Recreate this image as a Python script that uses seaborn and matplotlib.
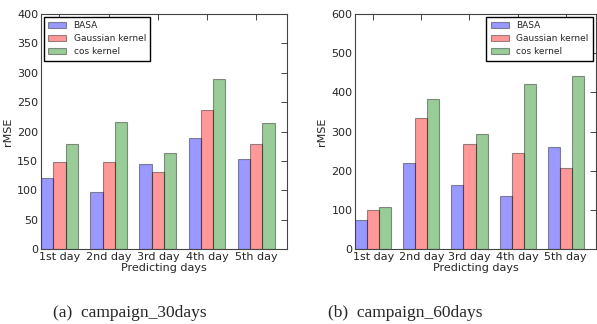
import pandas as pd
import seaborn as sns
import matplotlib
matplotlib.use('Agg')
import matplotlib.pyplot as plt

# data
days = ['1st day', '2nd day', '3rd day', '4th day', '5th day']
methods = ['BASA', 'Gaussian kernel', 'cos kernel']

basa_30 = [121, 97, 144, 189, 153]
gauss_30 = [148, 148, 131, 236, 178]
cos_30 = [178, 216, 163, 290, 215]

basa_60 = [75, 220, 163, 136, 260]
gauss_60 = [100, 334, 269, 245, 207]
cos_60 = [108, 384, 293, 422, 442]

captions = ['(a)  campaign_30days', '(b)  campaign_60days']


def to_long(basa, gauss, cos):
    rows = []
    for m, vals in zip(methods, [basa, gauss, cos]):
        for d, v in zip(days, vals):
            rows.append({'day': d, 'method': m, 'rMSE': v})
    return pd.DataFrame(rows)


sns.set_style('white')
plt.rcParams['font.family'] = ['DejaVu Sans']
plt.rcParams['legend.fancybox'] = False

palette = {'BASA': (0, 0, 1), 'Gaussian kernel': (1, 0, 0), 'cos kernel': (0, 0.5, 0)}

fig = plt.figure(figsize=(5.97, 3.24), dpi=100)
ax1 = fig.add_axes([0.0687, 0.231, 0.412, 0.726])
ax2 = fig.add_axes([0.595, 0.231, 0.403, 0.726])

panels = [
    (ax1, to_long(basa_30, gauss_30, cos_30), 400, 50, 'upper left'),
    (ax2, to_long(basa_60, gauss_60, cos_60), 600, 100, 'upper right'),
]

for ax, df, ymax, step, loc in panels:
    sns.barplot(data=df, x='day', y='rMSE', hue='method', palette=palette,
                width=0.75, alpha=0.4, edgecolor='black', linewidth=0.8,
                saturation=1, ax=ax)
    ax.set_xlim(-0.375, 4.625)
    ax.set_ylim(0, ymax)
    ax.set_yticks(range(0, ymax + 1, step))
    ax.set_xlabel('Predicting days', fontsize=8, labelpad=1)
    ax.set_ylabel('rMSE', fontsize=8, labelpad=3)
    ax.tick_params(direction='in', top=True, right=True, labelsize=8,
                   length=4, width=0.6, pad=2)
    for s in ax.spines.values():
        s.set_linewidth(0.8)
        s.set_color('#444444')
    ax.legend(loc=loc, fontsize=6.5, frameon=True, edgecolor='black',
              framealpha=1, borderpad=0.5, handlelength=2.0,
              labelspacing=0.45, borderaxespad=0.3)

fig.text(0.218, 0.035, captions[0], family='Liberation Serif', fontsize=12.5,
         ha='center', va='center')
fig.text(0.678, 0.035, captions[1], family='Liberation Serif', fontsize=12.5,
         ha='center', va='center')

fig.savefig('out.png', dpi=100)
